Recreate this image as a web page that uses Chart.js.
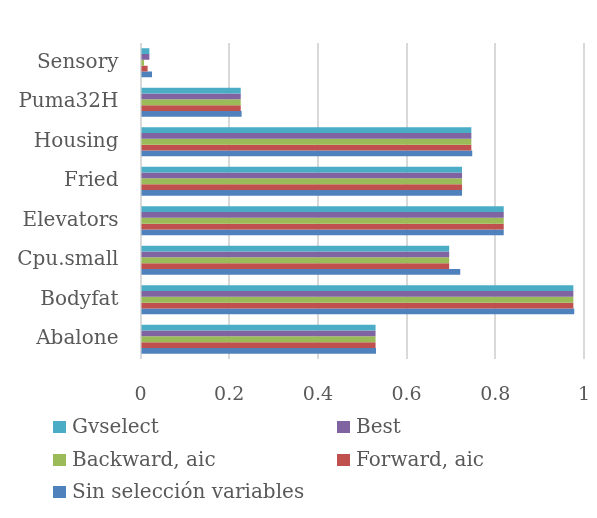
<!DOCTYPE html>
<html>
<head>
<meta charset="utf-8">
<script src="https://cdn.jsdelivr.net/npm/chart.js@4/dist/chart.umd.min.js"></script>
<style>
  html, body { margin: 0; padding: 0; background: #ffffff; }
  #wrap { position: relative; width: 597px; height: 518px; }
  canvas { position: absolute; left: 0; top: 0; }
  #legend { position: absolute; left: 0; top: 0; width: 597px; height: 518px; pointer-events: none;
            font-family: "DejaVu Serif", "Liberation Serif", serif; font-size: 20px; color: #595959; }
  .item { position: absolute; white-space: nowrap; line-height: 24px; }
  .box { position: absolute; width: 13px; height: 12px; }
</style>
</head>
<body>
<div id="wrap">
  <canvas id="c" width="597" height="518"></canvas>
  <div id="legend"></div>
</div>
<script>
// Categories, top to bottom as shown
const categories = ["Sensory", "Puma32H", "Housing", "Fried", "Elevators", "Cpu.small", "Bodyfat", "Abalone"];
// Series names (legend order)
const seriesNames = ["Gvselect", "Best", "Backward, aic", "Forward, aic", "Sin selección variables"];
// Series values (per category, same order as categories)
const gvselect  = [0.020, 0.226, 0.746, 0.725, 0.819, 0.696, 0.976, 0.530];
const best      = [0.020, 0.226, 0.746, 0.725, 0.819, 0.696, 0.976, 0.530];
const backward  = [0.008, 0.226, 0.746, 0.725, 0.819, 0.696, 0.976, 0.530];
const forward   = [0.016, 0.226, 0.746, 0.725, 0.819, 0.696, 0.976, 0.530];
const sinSel    = [0.026, 0.228, 0.748, 0.725, 0.819, 0.721, 0.978, 0.531];
// Tick labels of the value axis
const tickValues = [0, 0.2, 0.4, 0.6, 0.8, 1];
const tickLabels = ["0", "0.2", "0.4", "0.6", "0.8", "1"];

const colors = ["#4BACC6", "#8064A2", "#9BBB59", "#C0504D", "#4F81BD"];
const seriesValues = [gvselect, best, backward, forward, sinSel];

const FONT = '"DejaVu Serif", "Liberation Serif", serif';

const chart = new Chart(document.getElementById("c"), {
  type: "bar",
  data: {
    labels: categories,
    datasets: seriesNames.map((name, i) => ({
      label: name,
      data: seriesValues[i],
      backgroundColor: colors[i],
      borderWidth: 0,
      categoryPercentage: 0.73,
      barPercentage: 1.0
    }))
  },
  options: {
    indexAxis: "y",
    responsive: false,
    animation: false,
    devicePixelRatio: 1,
    layout: { padding: { top: 43, right: 13, left: 0, bottom: 0 } },
    plugins: { legend: { display: false }, tooltip: { enabled: false } },
    scales: {
      x: {
        min: 0, max: 1,
        afterBuildTicks: (s) => { s.ticks = tickValues.map(v => ({ value: v })); },
        afterFit: (s) => { s.height = 159; },
        grid: { color: "#d9d9d9", lineWidth: 2, drawTicks: true, tickLength: 25, tickColor: "rgba(0,0,0,0)" },
        border: { display: false },
        ticks: {
          padding: 0,
          color: "#595959",
          font: { family: FONT, size: 19 },
          callback: (v, i) => tickLabels[i]
        }
      },
      y: {
        afterFit: (s) => { s.width = 140.5; },
        grid: { display: false, drawTicks: false },
        border: { display: false },
        ticks: {
          padding: 22,
          color: "#595959",
          font: { family: FONT, size: 20 }
        }
      }
    }
  }
});

// HTML legend (two columns) built from the datasets
const legendPos = [
  { x: 53, y: 427 }, { x: 337, y: 427 },
  { x: 53, y: 460 }, { x: 337, y: 460 },
  { x: 53, y: 492 }
];
const leg = document.getElementById("legend");
chart.data.datasets.forEach((ds, i) => {
  const p = legendPos[i];
  const box = document.createElement("div");
  box.className = "box";
  box.style.left = p.x + "px";
  box.style.top = (p.y - 6) + "px";
  box.style.background = ds.backgroundColor;
  leg.appendChild(box);
  const t = document.createElement("div");
  t.className = "item";
  t.style.left = (p.x + 19) + "px";
  t.style.top = (p.y - 13) + "px";
  t.textContent = ds.label;
  leg.appendChild(t);
});
</script>
</body>
</html>
